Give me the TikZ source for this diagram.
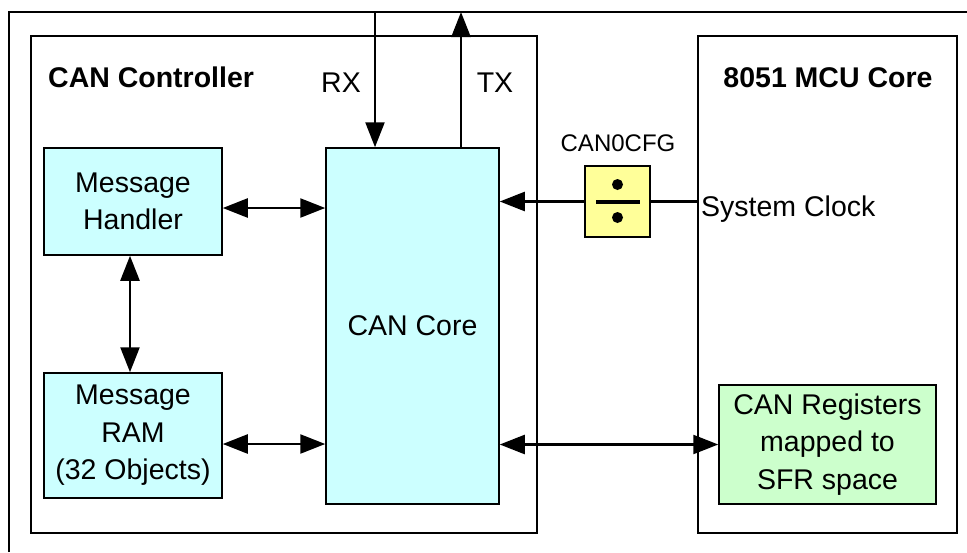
\documentclass[tikz,border=0pt]{standalone}
\usepackage{fontspec}
\setmainfont{Liberation Sans}
\usepackage{tikz}
\usetikzlibrary{arrows.meta,positioning}
\definecolor{corefill}{HTML}{CCFFFF}
\definecolor{regfill}{HTML}{CCFFCC}
\definecolor{divfill}{HTML}{FFFF99}

\begin{document}
\begin{tikzpicture}[x=1pt,y=-1pt,
  font=\fontsize{28.5}{37.5}\selectfont,
  blk/.style={draw,line width=1.5pt,align=center,inner sep=0pt},
  area/.style={draw,line width=1.5pt,inner sep=0pt},
  lbl/.style={inner sep=0pt,anchor=base},
  arr/.style={line width=2.4pt,-{Triangle[length=25pt,width=19pt]}},
  biarr/.style={line width=2.4pt,{Triangle[length=25pt,width=19pt]}-{Triangle[length=25pt,width=19pt]}}]
\useasboundingbox (0,0) rectangle (967,552);
\draw[line width=2.6pt] (9,552) -- (9,12) -- (967,12);
% the two big areas
\node[area,minimum width=506pt,minimum height=497pt] (ctrl) at (284,284.5) {};
\node[area,minimum width=259pt,minimum height=497pt] (mcu) at (827.5,284.5) {};
\node[lbl,anchor=base west,font=\fontsize{28.5}{34}\selectfont\bfseries] (ctrllbl) at (48,87) {CAN Controller};
\node[lbl,font=\fontsize{28.5}{34}\selectfont\bfseries] (mculbl) at (828,87) {8051 MCU Core};
% blocks
\node[blk,fill=corefill,minimum width=178pt,minimum height=107pt] (handler) at (133,201.5) {Message\\Handler};
\node[blk,fill=corefill,minimum width=178pt,minimum height=125pt] (ram) at (133,435.5) {Message\\RAM\\(32 Objects)};
\node[blk,fill=corefill,minimum width=173pt,minimum height=356pt] (core) at (412.5,326) {CAN Core};
\node[blk,fill=regfill,minimum width=217pt,minimum height=119pt] (regs) at (827.5,444.5) {CAN Registers\\mapped to\\SFR space};
\node[blk,fill=divfill,line width=2.2pt,minimum width=65pt,minimum height=71pt] (div) at (617.5,201.5) {};
\fill (div.center) +(-22,-2) rectangle +(22,2);
\fill (div.center) ++(0,-17) circle (5.5);
\fill (div.center) ++(0,16) circle (5.5);
\node[lbl,font=\fontsize{24}{28}\selectfont] (cfglbl) at (618,151) {CAN0CFG};
% RX / TX
\coordinate (rxtop) at (375,12);
\coordinate (txtop) at (461,12);
\draw[arr] (rxtop) -- (rxtop |- core.north);
\draw[arr] (txtop |- core.north) -- (txtop);
\node[lbl] (rxlbl) at (341,92) {RX};
\node[lbl] (txlbl) at (495,92) {TX};
% connections
\draw[biarr] (handler.east |- 0,208) -- (core.west |- 0,208);
\draw[biarr] (handler.south -| 130,0) -- (ram.north -| 130,0);
\draw[biarr] (ram.east |- 0,444) -- (core.west |- 0,444);
\draw[biarr] (core.east |- regs.west) -- (regs.west);
\draw[arr] (div.west) -- (div.west -| core.east);
\draw[line width=2.4pt] (div.east) -- (div.east -| mcu.west);
\node[lbl,anchor=base west] (clklbl) at (701,216) {System Clock};
\end{tikzpicture}
\end{document}
